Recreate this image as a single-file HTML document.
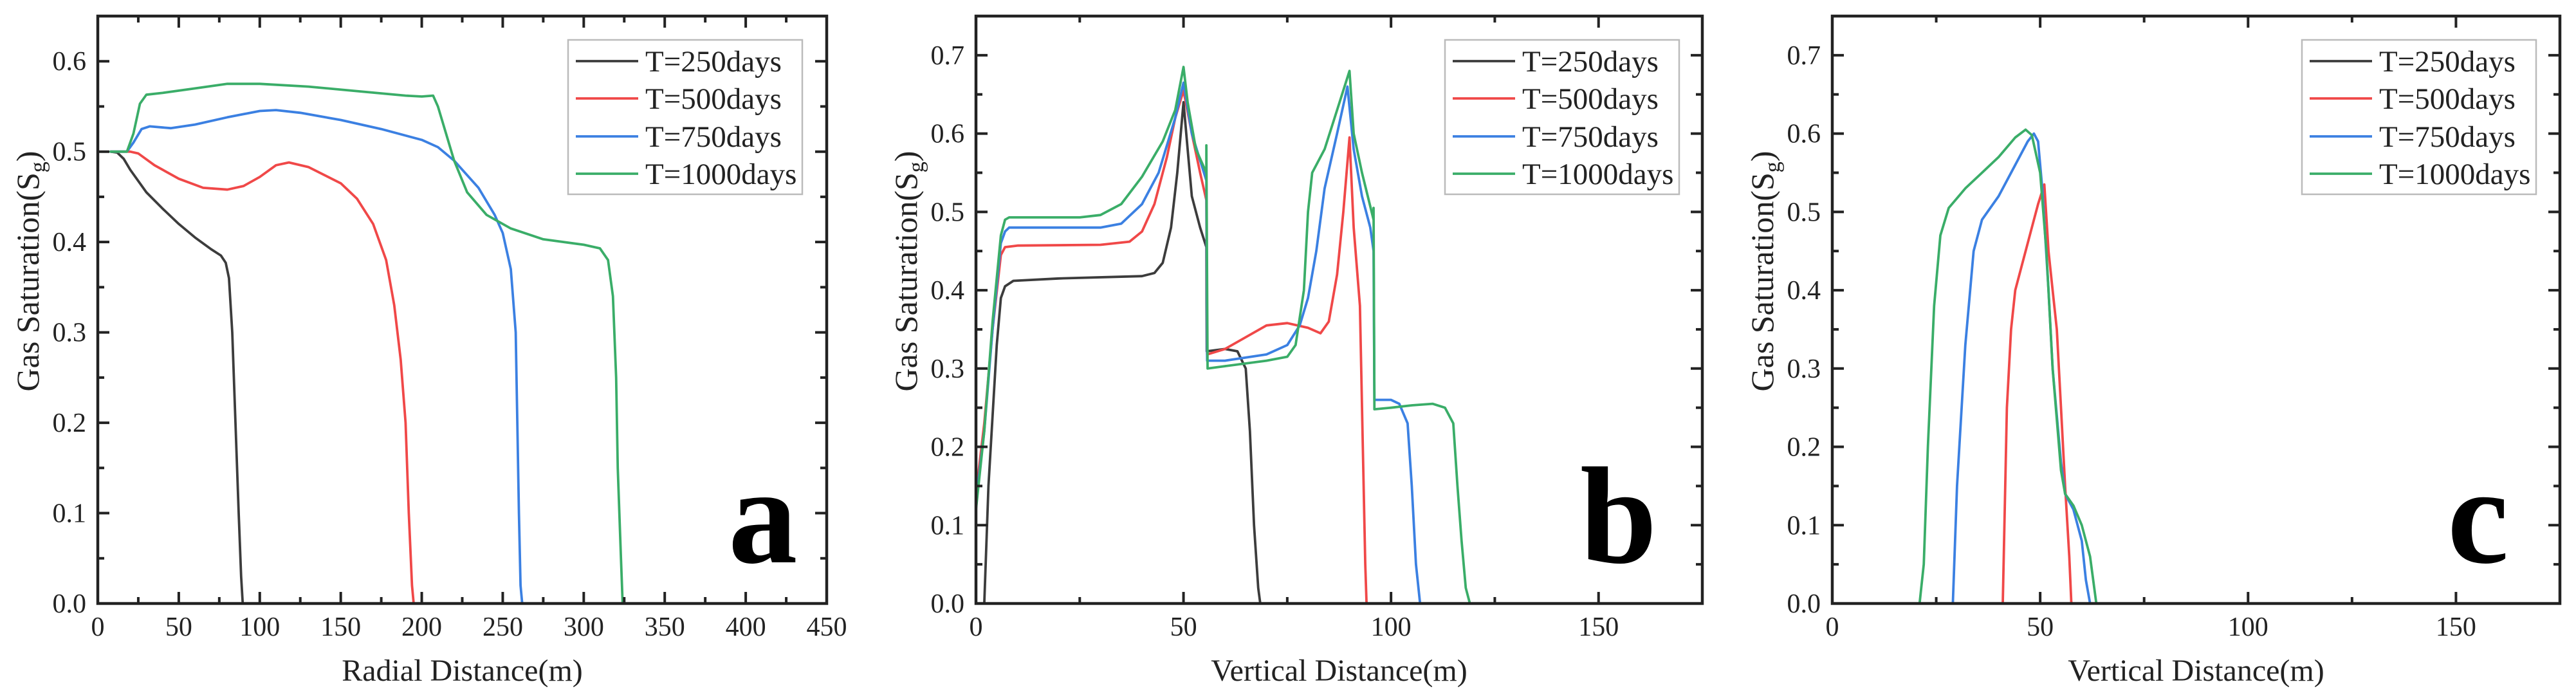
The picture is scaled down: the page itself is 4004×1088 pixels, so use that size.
<!DOCTYPE html>
<html><head><meta charset="utf-8">
<style>
html,body{margin:0;padding:0;background:#fff;}
svg{display:block;font-family:"Liberation Serif","Times New Roman",serif;}
</style></head>
<body>
<svg id="chart" width="4004" height="1088" viewBox="0 0 4004 1088" xmlns="http://www.w3.org/2000/svg"></svg>
<script>
const seriesLabels = ["T=250days","T=500days","T=750days","T=1000days"];
const seriesColors = ["#3c3c3c","#f04848","#3b80e2","#3aad68"];

// Panel a: radial distance
const aBlack = [[8,0.5],[12,0.499],[16,0.492],[20,0.48],[30,0.455],[40,0.437],[50,0.42],[60,0.405],[70,0.392],[76,0.385],[79,0.377],[81,0.36],[83,0.3],[85,0.2],[87,0.1],[88.5,0.03],[89.5,0]];
const aRed = [[8,0.5],[20,0.5],[25,0.498],[35,0.485],[50,0.47],[65,0.46],[80,0.458],[90,0.462],[100,0.472],[110,0.485],[118,0.488],[130,0.483],[150,0.465],[160,0.448],[170,0.42],[178,0.38],[183,0.33],[187,0.27],[190,0.2],[192,0.1],[194,0.02],[195,0]];
const aBlue = [[8,0.5],[18,0.5],[22,0.51],[27,0.525],[32,0.528],[45,0.526],[60,0.53],[80,0.538],[100,0.545],[110,0.546],[125,0.543],[150,0.535],[175,0.525],[200,0.513],[210,0.505],[220,0.49],[235,0.46],[245,0.43],[250,0.41],[255,0.37],[258,0.3],[259,0.2],[260,0.1],[261,0.02],[262,0]];
const aGreen = [[8,0.5],[18,0.5],[22,0.52],[26,0.553],[30,0.563],[40,0.565],[60,0.57],[80,0.575],[100,0.575],[130,0.572],[160,0.567],[190,0.562],[200,0.561],[207,0.562],[210,0.55],[215,0.52],[220,0.49],[228,0.455],[240,0.43],[255,0.415],[275,0.403],[300,0.397],[310,0.393],[315,0.38],[318,0.34],[320,0.25],[321,0.15],[323,0.05],[324,0]];

// Panel b: vertical distance
const bBlack = [[2,0],[3,0.15],[5,0.33],[6,0.39],[7,0.405],[9,0.412],[20,0.415],[40,0.418],[43,0.422],[45,0.435],[47,0.48],[48.5,0.55],[50,0.64],[51,0.58],[52,0.52],[54,0.48],[55.5,0.455],[55.6,0.322],[60,0.325],[63,0.322],[65,0.3],[66,0.22],[67,0.1],[68,0.02],[68.5,0]];
const bRed = [[0,0.14],[2,0.23],[4,0.35],[6,0.445],[7,0.455],[10,0.457],[30,0.458],[37,0.462],[40,0.475],[43,0.51],[46,0.57],[48,0.62],[50,0.655],[52,0.6],[54,0.55],[55.5,0.515],[55.7,0.318],[60,0.325],[65,0.34],[70,0.355],[75,0.358],[80,0.352],[83,0.345],[85,0.36],[87,0.42],[88.5,0.5],[90,0.595],[91,0.48],[92.5,0.38],[93.2,0.2],[93.8,0.05],[94.1,0]];
const bBlue = [[0,0.13],[2,0.22],[4,0.35],[6,0.46],[7,0.475],[8,0.48],[30,0.48],[35,0.485],[40,0.51],[44,0.55],[48,0.62],[50,0.665],[52,0.6],[55.5,0.54],[55.7,0.31],[60,0.31],[70,0.318],[75,0.33],[78,0.355],[80,0.39],[82,0.45],[84,0.53],[87,0.6],[89.5,0.66],[91,0.58],[93,0.52],[95,0.48],[95.8,0.45],[96,0.26],[100,0.26],[102,0.255],[104,0.23],[105,0.15],[106,0.05],[107,0]];
const bGreen = [[0,0.12],[2,0.22],[4,0.36],[6,0.47],[7,0.49],[8,0.493],[25,0.493],[30,0.496],[35,0.51],[40,0.545],[45,0.59],[48,0.63],[50,0.685],[51,0.64],[53,0.58],[55.5,0.55],[55.5,0.585],[55.8,0.3],[60,0.303],[70,0.31],[75,0.315],[77,0.33],[79,0.4],[80,0.5],[81,0.55],[84,0.58],[87,0.63],[90,0.68],[91,0.6],[93,0.55],[95.8,0.49],[95.8,0.505],[96,0.248],[100,0.25],[105,0.253],[110,0.255],[113,0.25],[115,0.23],[116,0.15],[117,0.08],[118,0.02],[119,0]];

// Panel c: vertical distance
const cRed = [[41,0],[42,0.25],[43,0.35],[44,0.4],[46,0.44],[48,0.48],[49.5,0.51],[51,0.535],[52,0.45],[53,0.4],[54,0.35],[55,0.25],[56,0.15],[57,0.06],[57.5,0]];
const cBlue = [[29,0],[30,0.15],[32,0.33],[34,0.45],[36,0.49],[40,0.52],[44,0.56],[47,0.59],[48.5,0.6],[49.5,0.59],[50.5,0.53],[52,0.4],[53,0.3],[55,0.18],[56,0.14],[58,0.12],[60,0.08],[61,0.03],[62,0]];
const cGreen = [[21,0],[22,0.05],[23,0.2],[24.5,0.38],[26,0.47],[28,0.505],[32,0.53],[36,0.55],[40,0.57],[44,0.595],[46.5,0.605],[48,0.598],[50,0.55],[51.5,0.45],[53,0.3],[55,0.17],[56,0.14],[58,0.125],[60,0.1],[62,0.06],[63.5,0]];

const aXTicks = [0,50,100,150,200,250,300,350,400,450];
const aYTicks = [0.0,0.1,0.2,0.3,0.4,0.5,0.6];
const bcXTicks = [0,50,100,150];
const bcYTicks = [0.0,0.1,0.2,0.3,0.4,0.5,0.6,0.7];

const NS = "http://www.w3.org/2000/svg";
const svg = document.getElementById('chart');
function mk(tag, attrs, parent){const e=document.createElementNS(NS,tag);for(const k in attrs)e.setAttribute(k,attrs[k]);(parent||svg).appendChild(e);return e;}

const panels = [
 {id:'a', L:152, R:1285, T:25, B:938, xmax:450, ymax:0.65, xt:aXTicks, yt:aYTicks, xminor:25, title:'Radial Distance(m)', series:[aBlack,aRed,aBlue,aGreen], legL:883, legR:1247, letter:'a', letX:1132},
 {id:'b', L:1517, R:2646, T:25, B:938, xmax:175, ymax:0.75, xt:bcXTicks, yt:bcYTicks, xminor:25, title:'Vertical Distance(m)', series:[bBlack,bRed,bBlue,bGreen], legL:2246, legR:2610, letter:'b', letX:2456},
 {id:'c', L:2848, R:3979, T:25, B:938, xmax:175, ymax:0.75, xt:bcXTicks, yt:bcYTicks, xminor:25, title:'Vertical Distance(m)', series:[[],cRed,cBlue,cGreen], legL:3578, legR:3942, letter:'c', letX:3804}
];

panels.forEach(p=>{
  const g = mk('g',{});
  
  
  const xs = v => p.L + v/p.xmax*(p.R-p.L);
  const ys = v => p.B - v/p.ymax*(p.B-p.T);
  p.series.forEach((s,i)=>{
    if(!s.length) return;
    const pts = s.map(d=>xs(d[0]).toFixed(1)+','+ys(d[1]).toFixed(1)).join(' ');
    const pl = mk('polyline',{points:pts,fill:'none',stroke:seriesColors[i],'stroke-width':3.8,'stroke-linejoin':'round','stroke-linecap':'round'},g);
    
    
  });
  const fr = mk('rect',{x:p.L,y:p.T,width:p.R-p.L,height:p.B-p.T,fill:'none',stroke:'#222','stroke-width':4.5},g);
  
  
  for(let v=0; v<=p.xmax+1e-9; v+=p.xminor){
    const major = Math.abs(v/50-Math.round(v/50))<1e-6;
    const len = major?18:10, x=xs(v);
    mk('line',{x1:x,y1:p.B,x2:x,y2:p.B-len,stroke:'#222','stroke-width':4},g);
    mk('line',{x1:x,y1:p.T,x2:x,y2:p.T+len,stroke:'#222','stroke-width':4},g);
  }
  p.xt.forEach(v=>{
    const t = mk('text',{x:xs(v),y:988,'font-size':42,'text-anchor':'middle',fill:'#222'},g);
    t.textContent = v;
    
    
  });
  for(let k=0; k*0.05<=p.ymax+1e-9; k++){
    const v=k*0.05, major=k%2===0, len=major?18:10, y=ys(v);
    mk('line',{x1:p.L,y1:y,x2:p.L+len,y2:y,stroke:'#222','stroke-width':4},g);
    mk('line',{x1:p.R,y1:y,x2:p.R-len,y2:y,stroke:'#222','stroke-width':4},g);
  }
  p.yt.forEach(v=>{
    const t = mk('text',{x:p.L-18,y:ys(v)+14,'font-size':42,'text-anchor':'end',fill:'#222'},g);
    t.textContent = v.toFixed(1);
    
    
  });
  const xt = mk('text',{x:(p.L+p.R)/2,y:1058,'font-size':48,'text-anchor':'middle',fill:'#222'},g);
  xt.textContent = p.title;
  
  
  const cy=(p.T+p.B)/2-60, cx=p.L-92;
  const yt = mk('text',{x:cx,y:cy,'font-size':50,'text-anchor':'middle',fill:'#222',transform:'rotate(-90 '+cx+' '+cy+')'},g);
  yt.innerHTML = 'Gas Saturation(S<tspan font-size="34" dy="10">g</tspan><tspan dy="-10">)</tspan>';
  
  
  const lg = mk('g',{},g);
  
  
  mk('rect',{x:p.legL,y:62,width:p.legR-p.legL,height:240,fill:'#fff',stroke:'#bbb','stroke-width':2.5},lg);
  const rows=[95,153,212,270];
  seriesLabels.forEach((lab,i)=>{
    const e = mk('g',{},lg);
    
    
    mk('line',{x1:p.legL+12,y1:rows[i],x2:p.legL+109,y2:rows[i],stroke:seriesColors[i],'stroke-width':3.8},e);
    const t = mk('text',{x:p.legL+120,y:rows[i]+16,'font-size':47,fill:'#222'},e);
    t.textContent = lab;
  });
  const L = mk('text',{x:p.letX,y:874,'font-size':215,'font-weight':'bold',fill:'#000'},g);
  L.textContent = p.letter;
  
  
});
</script>
</body></html>
